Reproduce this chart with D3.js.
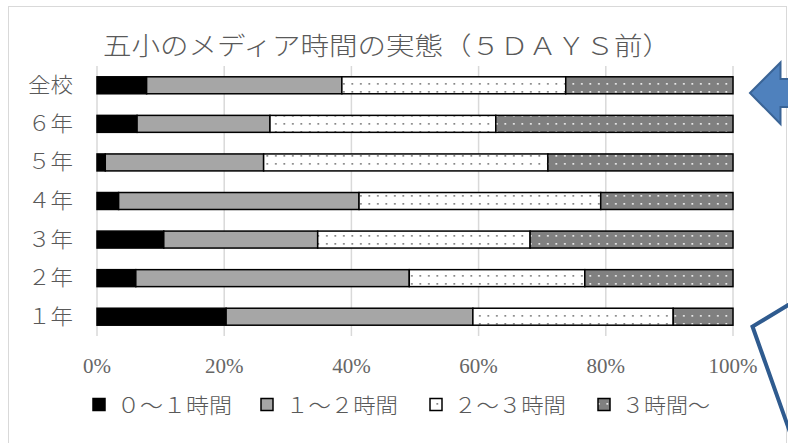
<!DOCTYPE html>
<html>
<head>
<meta charset="utf-8">
<script src="https://cdn.jsdelivr.net/npm/d3@7"></script>
<style>
  html, body { margin: 0; padding: 0; background: #fff; }
  svg { display: block; }
</style>
</head>
<body>
<svg id="chart" width="788" height="443"></svg>
<script>
// Grade rows, top to bottom
const categories = ["全校", "６年", "５年", "４年", "３年", "２年", "１年"];
// Series names (legend order)
const seriesNames = ["０～１時間", "１～２時間", "２～３時間", "３時間～"];
// Share of pupils per series, in percent, by row
const s0to1 = [7.8, 6.3, 1.3, 3.4, 10.5, 6.1, 20.3];
const s1to2 = [30.7, 20.9, 24.9, 37.8, 24.2, 43.0, 38.8];
const s2to3 = [35.2, 35.5, 44.7, 38.0, 33.4, 27.6, 31.5];
const s3plus = [26.3, 37.3, 29.1, 20.8, 31.9, 23.3, 9.4];
const tickValues = [0, 20, 40, 60, 80, 100];
const titleText = "五小のメディア時間の実態（５ＤＡＹＳ前）";

const svg = d3.select("#chart");
const textColor = "#595959";
const cjk = "'Liberation Serif', 'Noto Sans CJK JP', serif";
const cjkWeight = 300;

// Outer chart frame
svg.append("rect").attr("x", 8.5).attr("y", 6.5).attr("width", 778).attr("height", 460)
  .attr("fill", "#fff").attr("stroke", "#d9d9d9").attr("stroke-width", 1);

// Fill patterns
const defs = svg.append("defs");
const pWhite = defs.append("pattern").attr("id", "dotWhite").attr("patternUnits", "userSpaceOnUse")
  .attr("width", 8.5).attr("height", 8);
pWhite.append("rect").attr("width", 8.5).attr("height", 8).attr("fill", "#fff");
pWhite.append("rect").attr("x", 3).attr("y", 3).attr("width", 1.7).attr("height", 1.7).attr("fill", "#7f7f7f");
const pDark = defs.append("pattern").attr("id", "dotDark").attr("patternUnits", "userSpaceOnUse")
  .attr("width", 8.5).attr("height", 8);
pDark.append("rect").attr("width", 8.5).attr("height", 8).attr("fill", "#808080");
pDark.append("rect").attr("x", 3).attr("y", 3).attr("width", 1.7).attr("height", 1.7).attr("fill", "#f0f0f0");

const fills = ["#000000", "#a6a6a6", "url(#dotWhite)", "url(#dotDark)"];

const x = d3.scaleLinear().domain([0, 100]).range([97, 733]);
const y = d3.scaleBand().domain(categories).range([66, 336]).paddingInner(0.56).paddingOuter(0.28);

// Gridlines
svg.append("g").selectAll("line").data(tickValues).join("line")
  .attr("x1", d => x(d)).attr("x2", d => x(d)).attr("y1", 66).attr("y2", 336)
  .attr("stroke", "#d9d9d9").attr("stroke-width", 1.5);

// Title
svg.append("text").attr("x", 387).attr("y", 55).attr("text-anchor", "middle")
  .attr("font-family", cjk).attr("font-size", 25).attr("font-weight", cjkWeight).attr("fill", textColor)
  .attr("textLength", 568).attr("lengthAdjust", "spacingAndGlyphs")
  .text(titleText);

// Stacked bars
const rows = categories.map((c, i) => ({ cat: c, 0: s0to1[i], 1: s1to2[i], 2: s2to3[i], 3: s3plus[i] }));
const stacked = d3.stack().keys([0, 1, 2, 3])(rows);

svg.append("g").selectAll("g").data(stacked).join("g")
  .attr("fill", (d, i) => fills[i])
  .selectAll("rect").data(d => d).join("rect")
  .attr("x", d => x(d[0]))
  .attr("y", d => y(d.data.cat))
  .attr("width", d => x(d[1]) - x(d[0]))
  .attr("height", y.bandwidth())
  .attr("stroke", "#000").attr("stroke-width", 1.5);

// Category axis labels
svg.append("g").selectAll("text").data(categories).join("text")
  .attr("x", 73).attr("y", d => y(d) + y.bandwidth() / 2 + 7)
  .attr("text-anchor", "end").attr("font-family", cjk).attr("font-size", 21).attr("font-weight", cjkWeight)
  .attr("fill", textColor)
  .attr("textLength", 45).attr("lengthAdjust", "spacingAndGlyphs")
  .text(d => d);

// Value axis labels
svg.append("g").selectAll("text").data(tickValues).join("text")
  .attr("x", d => x(d)).attr("y", 373).attr("text-anchor", "middle")
  .attr("font-family", "'Liberation Serif', serif").attr("font-size", 21).attr("fill", "#666")
  .text(d => d + "%");

// Legend
const legendItems = [
  { sx: 93, tx: 117, tw: 115 },
  { sx: 261, tx: 286, tw: 112 },
  { sx: 430, tx: 454, tw: 112 },
  { sx: 598, tx: 622, tw: 88 }
];
const lg = svg.append("g");
lg.selectAll("rect").data(seriesNames).join("rect")
  .attr("x", (d, i) => legendItems[i].sx).attr("y", 398.5)
  .attr("width", 12).attr("height", 12)
  .attr("fill", (d, i) => fills[i]).attr("stroke", "#000").attr("stroke-width", 1.5);
lg.selectAll("text").data(seriesNames).join("text")
  .attr("x", (d, i) => legendItems[i].tx).attr("y", 413)
  .attr("font-family", cjk).attr("font-size", 21).attr("font-weight", cjkWeight).attr("fill", textColor)
  .attr("textLength", (d, i) => legendItems[i].tw).attr("lengthAdjust", "spacingAndGlyphs")
  .text(d => d);

// Block arrow pointing at the whole-school row
svg.append("path")
  .attr("d", d3.line()([[750, 93], [780.5, 62.5], [780.5, 79], [800, 79], [800, 107], [780.5, 107], [780.5, 124]]) + "Z")
  .attr("fill", "#4f81bd").attr("stroke", "#3a6496").attr("stroke-width", 2).attr("stroke-linejoin", "miter");

// Callout outline
svg.append("path")
  .attr("d", d3.line()([[800, 298], [752.5, 326.5], [797, 452]]))
  .attr("fill", "none").attr("stroke", "#2f5b8f").attr("stroke-width", 4).attr("stroke-linejoin", "miter");
</script>
</body>
</html>
